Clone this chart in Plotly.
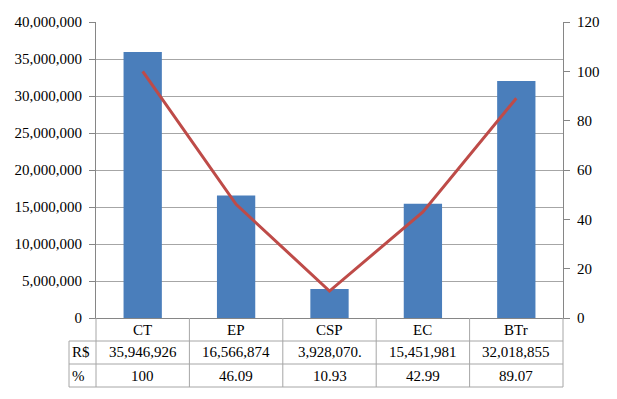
import plotly.graph_objects as go

# ---- data ----
categories = ["CT", "EP", "CSP", "EC", "BTr"]
values_rs = [35946926, 16566874, 3928070, 15451981, 32018855]
rs_labels = ["35,946,926", "16,566,874", "3,928,070.", "15,451,981", "32,018,855"]
values_pct = [100, 46.09, 10.93, 42.99, 89.07]
row_names = ["R$", "%"]

# ---- layout constants (pixels) ----
W, H = 617, 399
M_L, M_R, M_T, M_B = 96, 54, 22, 81
PLOT_W = W - M_L - M_R
PLOT_H = H - M_T - M_B
ROW_H = 23
LABEL_COL_PX = 27
n = len(categories)
col_w = 1.0 / n                                # paper units per category
px_left = -LABEL_COL_PX / PLOT_W               # paper x of table left border
row_h = ROW_H / PLOT_H                         # paper units per row

FONT = "Liberation Serif, Times New Roman, serif"
GRID = "#a6a6a6"
AXIS = "#868686"
TABLE_LINE = "#a6a6a6"

fig = go.Figure()
fig.add_trace(go.Bar(
    x=categories, y=values_rs, marker=dict(color="#4a7ebb", line=dict(width=0)),
    yaxis="y", showlegend=False, hoverinfo="skip"))
fig.add_trace(go.Scatter(
    x=categories, y=values_pct, mode="lines",
    line=dict(color="#be4b48", width=3), yaxis="y2", showlegend=False,
    hoverinfo="skip"))

shapes = []
for i in range(1, 4):
    shapes.append(dict(type="line", xref="paper", yref="paper",
                       x0=px_left, x1=1, y0=-i * row_h, y1=-i * row_h,
                       line=dict(color=TABLE_LINE, width=1)))
for k in range(n + 1):
    xb = k * col_w
    shapes.append(dict(type="line", xref="paper", yref="paper",
                       x0=xb, x1=xb, y0=0, y1=-3 * row_h,
                       line=dict(color=TABLE_LINE, width=1)))
shapes.append(dict(type="line", xref="paper", yref="paper",
                   x0=px_left, x1=px_left, y0=-row_h, y1=-3 * row_h,
                   line=dict(color=TABLE_LINE, width=1)))

annotations = []
txt_font = dict(family=FONT, size=15, color="#000000")
for i, c in enumerate(categories):
    cx = (i + 0.5) * col_w
    for r, t in enumerate([c, rs_labels[i], f"{values_pct[i]:g}"]):
        annotations.append(dict(x=cx, xref="paper", y=-(0.5 + r) * row_h, yref="paper",
                                text=t, showarrow=False, font=txt_font,
                                xanchor="center", yanchor="middle"))
for j, name in enumerate(row_names):
    annotations.append(dict(x=px_left, xref="paper", y=-(1.5 + j) * row_h, yref="paper",
                            text=name, showarrow=False, font=txt_font,
                            xanchor="left", yanchor="middle", xshift=1))

fig.update_layout(
    width=W, height=H,
    margin=dict(l=M_L, r=M_R, t=M_T, b=M_B, pad=0),
    paper_bgcolor="white", plot_bgcolor="white",
    font=dict(family=FONT, size=15, color="#000000"),
    bargap=0.59,
    xaxis=dict(type="category", range=[-0.5, n - 0.5],
               showticklabels=False, showgrid=False, ticks="",
               showline=True, linecolor=AXIS, linewidth=1, zeroline=False),
    yaxis=dict(range=[0, 40000000], dtick=5000000, tickformat=",d",
               showgrid=True, gridcolor=GRID, gridwidth=1,
               showline=True, linecolor=AXIS, linewidth=1,
               ticks="outside", ticklen=6, tickcolor=AXIS,
               zeroline=False, ticklabelstandoff=4,
               tickfont=dict(family=FONT, size=15, color="#000000")),
    yaxis2=dict(range=[0, 120], dtick=20, overlaying="y", side="right",
                showgrid=False, showline=True, linecolor=AXIS, linewidth=1,
                ticks="outside", ticklen=6, tickcolor=AXIS, zeroline=False,
                ticklabelstandoff=4,
                tickfont=dict(family=FONT, size=15, color="#000000")),
    shapes=shapes,
    annotations=annotations,
)

fig.write_html("out.html",
               config={"displayModeBar": False, "staticPlot": True},
               post_script="document.body.style.margin='0';document.body.style.overflow='hidden';")
